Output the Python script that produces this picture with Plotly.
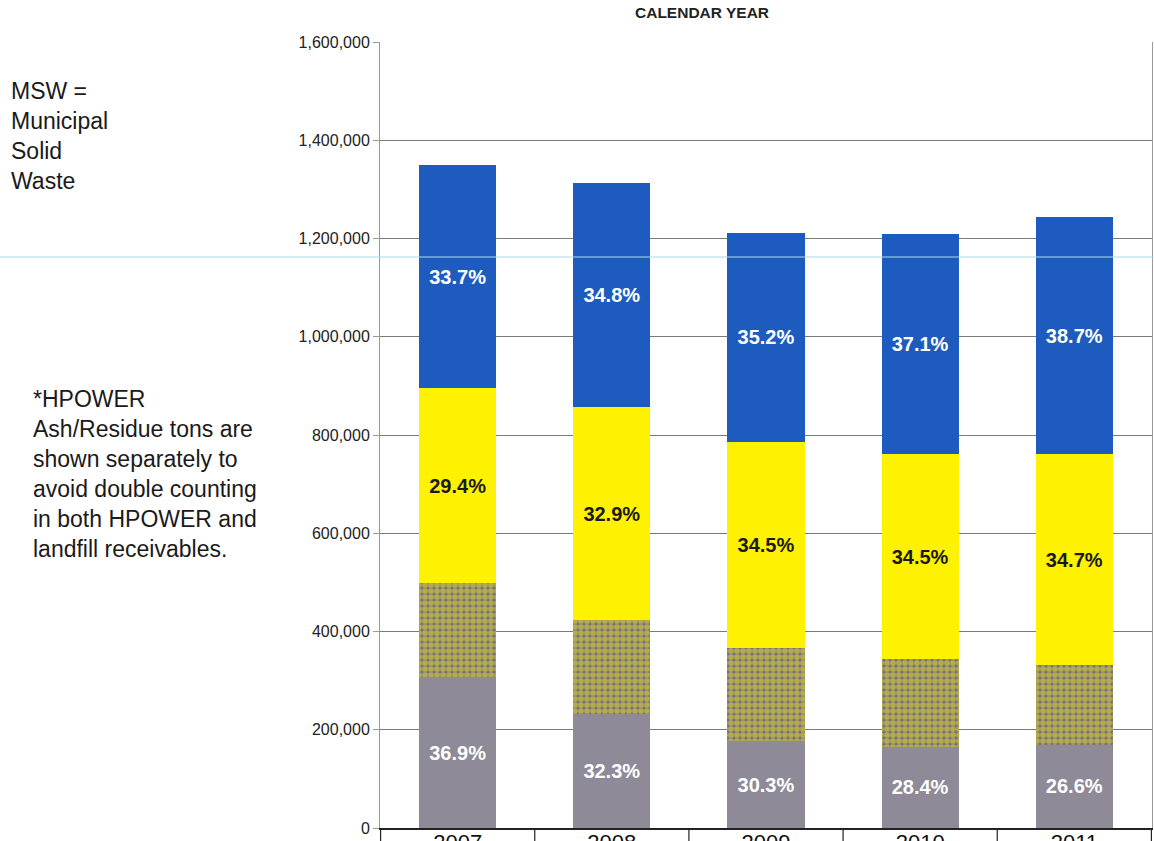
import plotly.graph_objects as go

years = ["2007", "2008", "2009", "2010", "2011"]
# tons by segment
hpower_msw = [307000, 232000, 177000, 165000, 169000]        # gray
hpower_ash = [191000, 192000, 190000, 179000, 162000]        # dotted yellow/gray
landfill_msw = [397000, 432000, 418000, 417000, 431000]      # yellow
other = [455000, 457000, 427000, 449000, 481000]             # blue
pct_bottom = ["36.9%", "32.3%", "30.3%", "28.4%", "26.6%"]
pct_yellow = ["29.4%", "32.9%", "34.5%", "34.5%", "34.7%"]
pct_blue = ["33.7%", "34.8%", "35.2%", "37.1%", "38.7%"]
y_ticks = [0, 200000, 400000, 600000, 800000, 1000000, 1200000, 1400000, 1600000]

GRAY = "#8e8a98"
YELLOW = "#fff200"
BLUE = "#1e5bbf"
LABEL_FONT = dict(family="Arial", size=20, weight="bold")

fig = go.Figure()
fig.add_trace(go.Bar(
    x=years, y=hpower_msw, marker=dict(color=GRAY, line=dict(width=0)),
    text=pct_bottom, textposition="inside", insidetextanchor="middle", textangle=0,
    textfont=dict(color="white", **LABEL_FONT), name="HPOWER MSW"))
fig.add_trace(go.Bar(
    x=years, y=hpower_ash,
    marker=dict(color=GRAY, line=dict(width=0),
                pattern=dict(shape=".", bgcolor="#77727f", fgcolor="#f2e51a",
                             size=6, solidity=0.7)),
    name="HPOWER Ash/Residue*"))
fig.add_trace(go.Bar(
    x=years, y=landfill_msw, marker=dict(color=YELLOW, line=dict(width=0)),
    text=pct_yellow, textposition="inside", insidetextanchor="middle", textangle=0,
    textfont=dict(color="#1a1a1a", **LABEL_FONT), name="Landfill"))
fig.add_trace(go.Bar(
    x=years, y=other, marker=dict(color=BLUE, line=dict(width=0)),
    text=pct_blue, textposition="inside", insidetextanchor="middle", textangle=0,
    textfont=dict(color="white", **LABEL_FONT), name="Other"))

L, R, T, B = 380, 2, 42, 13
W, H = 1154, 841
pw = W - L - R
ph = H - T - B

def px_x(p):
    return (p - L) / pw

def px_y(p):
    return (H - B - p) / ph

fig.update_layout(
    barmode="stack", bargap=0.5, showlegend=False,
    width=W, height=H,
    margin=dict(l=L, r=R, t=T, b=B, pad=0, autoexpand=False),
    paper_bgcolor="white", plot_bgcolor="white",
    font=dict(family="Arial", color="#222222"),
    xaxis=dict(showgrid=False, showline=True, linecolor="#222222", linewidth=1.5,
               ticks="", tickfont=dict(size=22, color="#111111"), mirror=False,
               automargin=False, ticklabelstandoff=-6),
    yaxis=dict(range=[0, 1600000], tickvals=y_ticks, tickformat=",",
               showgrid=True, gridcolor="#7a7a7a", gridwidth=1,
               showline=True, linecolor="#9a9a9a", linewidth=1, mirror=True,
               ticks="outside", ticklen=6, tickcolor="#9a9a9a",
               tickfont=dict(size=16, color="#222222"), zeroline=False,
               automargin=False),
)

# category boundary lines below the axis (table look)
for i in range(len(years) + 1):
    fig.add_shape(type="line", xref="x", yref="paper", x0=i - 0.5, x1=i - 0.5,
                  y0=0, y1=-0.03, line=dict(color="#222222", width=1.2))

# scan line artifact
fig.add_shape(type="line", xref="paper", yref="paper", x0=px_x(0), x1=px_x(W),
              y0=px_y(257), y1=px_y(257), line=dict(color="#a9dbea", width=1.2),
              layer="above")

fig.add_annotation(text="<b>CALENDAR YEAR</b>", xref="paper", yref="paper",
                   x=px_x(702), y=px_y(12), showarrow=False,
                   font=dict(size=15.5, color="#222222"), xanchor="center", yanchor="middle")

fig.add_annotation(text="MSW =<br>Municipal<br>Solid<br>Waste", xref="paper", yref="paper",
                   x=px_x(9), y=px_y(76), showarrow=False, align="left",
                   font=dict(size=23, color="#1a1a1a"), xanchor="left", yanchor="top")

fig.add_annotation(text="*HPOWER<br>Ash/Residue tons are<br>shown separately to<br>"
                        "avoid double counting<br>in both HPOWER and<br>landfill receivables.",
                   xref="paper", yref="paper",
                   x=px_x(31), y=px_y(384), showarrow=False, align="left",
                   font=dict(size=23, color="#1a1a1a"), xanchor="left", yanchor="top")

fig.write_html("out.html", config={"displayModeBar": False},
               post_script="document.body.style.margin='0';document.body.style.overflow='hidden';")
